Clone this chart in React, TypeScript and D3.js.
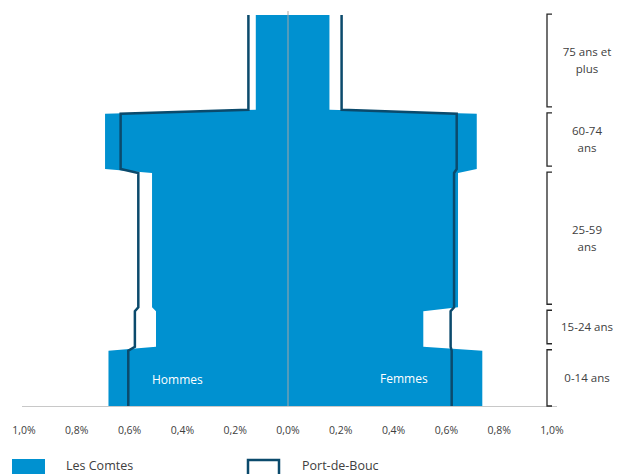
import React from 'react';
import * as d3 from 'd3';

// Age groups (years) and shares of population in % for each sex
const groupLabels = [['0-14 ans'], ['15-24 ans'], ['25-59', 'ans'], ['60-74', 'ans'], ['75 ans et', 'plus']];
const groupStart = [0, 15, 25, 60, 75];
const groupEnd = [14, 24, 59, 74, 99];
const lesComtesHommes = [0.68, 0.5, 0.515, 0.693, 0.122];
const lesComtesFemmes = [0.736, 0.5125, 0.644, 0.715, 0.157];
const portDeBoucHommes = [0.605, 0.58, 0.567, 0.634, 0.15];
const portDeBoucFemmes = [0.62, 0.616, 0.629, 0.639, 0.203];
const xTicks = [-1, -0.8, -0.6, -0.4, -0.2, 0, 0.2, 0.4, 0.6, 0.8, 1];

const FILL = '#0091d0';
const LINE = '#0b4a6c';
const FONT = "'Open Sans', sans-serif";

type Pt = { age: number; h: number; f: number };

function points(h: number[], f: number[]): Pt[] {
  const out: Pt[] = [];
  groupStart.forEach((s, i) => {
    out.push({ age: s, h: h[i], f: f[i] });
    out.push({ age: groupEnd[i], h: h[i], f: f[i] });
  });
  return out;
}

const App: React.FC = () => {
  const width = 620;
  const height = 474;

  const x = d3.scaleLinear().domain([-1, 1]).range([24, 552]);
  const y = d3.scaleLinear().domain([0, 99]).range([406, 15]);

  const comtes = points(lesComtesHommes, lesComtesFemmes);
  const bouc = points(portDeBoucHommes, portDeBoucFemmes);

  const area = d3.area<Pt>()
    .y(d => y(d.age))
    .x0(d => x(-d.h))
    .x1(d => x(d.f));
  const leftLine = d3.line<Pt>().x(d => x(-d.h)).y(d => y(d.age));
  const rightLine = d3.line<Pt>().x(d => x(d.f)).y(d => y(d.age));

  const fmt = (v: number) => `${Math.abs(v).toFixed(1).replace('.', ',')}%`;

  const bx = 547;

  return (
    <svg width={width} height={height} style={{ position: 'absolute', left: 0, top: 0 }}>
      <rect width={width} height={height} fill="#fff" />
      <path d={area(comtes) || ''} fill={FILL} />
      <line x1={x(0)} x2={x(0)} y1={y(100)} y2={y(0)} stroke="#a6a6a6" strokeWidth={1} />
      <path d={leftLine(bouc) || ''} fill="none" stroke={LINE} strokeWidth={2.5} />
      <path d={rightLine(bouc) || ''} fill="none" stroke={LINE} strokeWidth={2.5} />
      <line x1={x(-1) - 2} x2={x(1) + 5} y1={y(0) + 0.5} y2={y(0) + 0.5} stroke="#c8c8c8" strokeWidth={1} />

      <text x={152} y={384} fill="#fff" fontFamily={FONT} fontSize={12}>Hommes</text>
      <text x={380} y={383} fill="#fff" fontFamily={FONT} fontSize={12}>Femmes</text>

      {xTicks.map(t => (
        <text key={t} x={x(t)} y={434} textAnchor="middle" fontFamily={FONT} fontSize={10.5} fill="#404040">
          {fmt(t)}
        </text>
      ))}

      {groupStart.map((s, i) => {
        const top = y(groupEnd[i] + 1) + 3;
        const bottom = i === 0 ? y(s) : y(s) - 3;
        const mid = (top + bottom) / 2;
        const lines = groupLabels[i];
        return (
          <g key={s}>
            <path
              d={`M${bx + 5},${top} H${bx} V${bottom} H${bx + 5}`}
              fill="none"
              stroke="#262626"
              strokeWidth={1.3}
            />
            {lines.map((l, j) => (
              <text
                key={j}
                x={587}
                y={mid + 4 + (j - (lines.length - 1) / 2) * 17}
                textAnchor="middle"
                fontFamily={FONT}
                fontSize={11.5}
                fill="#404040"
              >
                {l}
              </text>
            ))}
          </g>
        );
      })}

      <rect x={12} y={459} width={33} height={20} fill={FILL} />
      <text x={66} y={470} fontFamily={FONT} fontSize={12.5} fill="#404040">Les Comtes</text>
      <rect x={248} y={460} width={31} height={20} fill="#fff" stroke={LINE} strokeWidth={2.5} />
      <text x={302} y={470} fontFamily={FONT} fontSize={12.5} fill="#404040">Port-de-Bouc</text>
    </svg>
  );
};

export default App;
